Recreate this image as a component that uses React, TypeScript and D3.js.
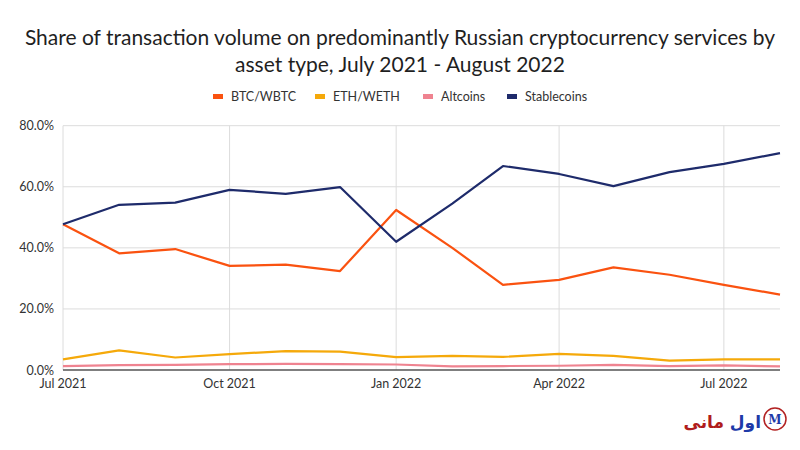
import React from "react";
import * as d3 from "d3";

const months: string[] = [
  "2021-07-01", "2021-08-01", "2021-09-01", "2021-10-01", "2021-11-01", "2021-12-01",
  "2022-01-01", "2022-02-01", "2022-03-01", "2022-04-01", "2022-05-01", "2022-06-01",
  "2022-07-01", "2022-08-01",
];
const btc: number[] = [47.7, 38.2, 39.6, 34.1, 34.5, 32.4, 52.4, 40.0, 27.9, 29.5, 33.6, 31.2, 27.9, 24.7];
const eth: number[] = [3.5, 6.4, 4.1, 5.2, 6.2, 6.0, 4.2, 4.6, 4.3, 5.3, 4.6, 3.1, 3.5, 3.5];
const alt: number[] = [1.3, 1.6, 1.7, 1.9, 2.0, 1.9, 1.8, 1.2, 1.3, 1.4, 1.7, 1.3, 1.5, 1.2];
const stable: number[] = [47.7, 54.1, 54.8, 59.0, 57.7, 59.9, 42.0, 54.5, 66.8, 64.2, 60.2, 64.8, 67.5, 71.0];

const seriesNames: string[] = ["BTC/WBTC", "ETH/WETH", "Altcoins", "Stablecoins"];
const seriesColors: string[] = ["#fa5210", "#f5a90a", "#ef8390", "#1e2b6b"];
const yTicks: number[] = [0, 20, 40, 60, 80];
const xTicks: string[] = ["2021-07-01", "2021-10-01", "2022-01-01", "2022-04-01", "2022-07-01"];
const xTickLabels: string[] = ["Jul 2021", "Oct 2021", "Jan 2022", "Apr 2022", "Jul 2022"];
const titleLines: string[] = [
  "Share of transaction volume on predominantly Russian cryptocurrency services by",
  "asset type, July 2021 - August 2022",
];

const W = 800, H = 450;
const m = { left: 63, right: 20, top: 125.7, bottom: 80 };
const FONT = "Lato, 'Open Sans', sans-serif";

export default function App() {
  const parse = d3.utcParse("%Y-%m-%d");
  const dates = months.map((d) => parse(d) as Date);
  const x = d3.scaleUtc().domain([dates[0], dates[dates.length - 1]]).range([m.left, W - m.right]);
  const y = d3.scaleLinear().domain([0, 80]).range([370, m.top]);
  const all = [btc, eth, alt, stable];
  const line = d3.line<number>().x((_, i) => x(dates[i])).y((v) => y(v));
  const legendX = [213, 315, 423, 507];

  return (
    <svg width={W} height={H} style={{ position: "absolute", left: 0, top: 0, background: "#fff" }} fontFamily={FONT}>
      <rect width={W} height={H} fill="#fff" />
      {titleLines.map((t, i) => (
        <text key={i} x={400} y={45 + i * 27} textAnchor="middle" fontSize={21} fill="#1f1f1f">{t}</text>
      ))}
      {seriesNames.map((n, i) => (
        <g key={n}>
          <rect x={legendX[i]} y={94} width={10} height={5} fill={seriesColors[i]} />
          <text x={legendX[i] + 18} y={101} fontSize={12.5} fill="#333">{n}</text>
        </g>
      ))}
      {yTicks.map((t) => (
        <g key={t}>
          {t > 0 && <line x1={m.left} x2={W - m.right} y1={y(t)} y2={y(t)} stroke="#dcdcdc" strokeWidth={1} />}
          <text x={54} y={y(t) + 4.5} textAnchor="end" fontSize={12.5} fill="#333">{t.toFixed(1)}%</text>
        </g>
      ))}
      {xTicks.map((t, i) => {
        const xv = x(parse(t) as Date);
        return (
          <g key={t}>
            <line x1={xv} x2={xv} y1={y(80)} y2={y(0)} stroke="#dcdcdc" strokeWidth={1} />
            <text x={xv} y={388} textAnchor="middle" fontSize={12.5} fill="#333">{xTickLabels[i]}</text>
          </g>
        );
      })}
      <line x1={m.left} x2={W - m.right} y1={y(0)} y2={y(0)} stroke="#555" strokeWidth={1.5} />
      {all.map((s, i) => (
        <path key={i} d={line(s) || ""} fill="none" stroke={seriesColors[i]} strokeWidth={2.2} strokeLinejoin="round" />
      ))}
      <g>
        <circle cx={775} cy={419} r={11} fill="none" stroke="#b22222" strokeWidth={1.5} />
        <text x={775} y={424} textAnchor="middle" fontSize={12} fontWeight="bold" fill="#1e3aa8" fontFamily="DejaVu Serif">M</text>
        <text x={761} y={428} textAnchor="end" fontSize={17} fontWeight="bold" fontFamily="DejaVu Sans" fill="#1e3aa8">اول</text>
        <text x={724} y={428} textAnchor="end" fontSize={17} fontWeight="bold" fontFamily="DejaVu Sans" fill="#b01c1c">مانی</text>
      </g>
    </svg>
  );
}
